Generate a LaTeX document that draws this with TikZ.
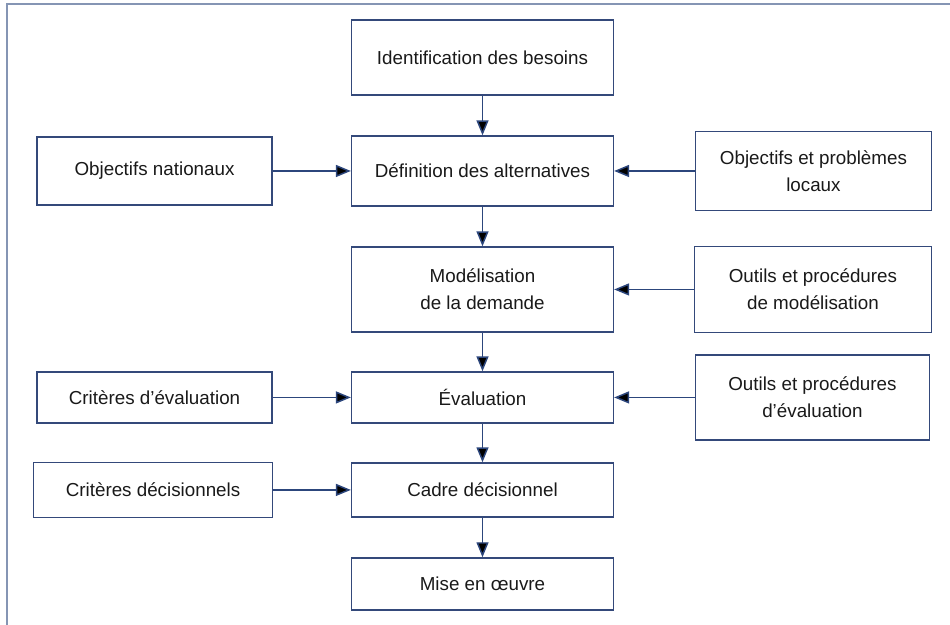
\documentclass[tikz,border=0pt]{standalone}
\usepackage{fontspec}
\setmainfont{Liberation Sans}
\usetikzlibrary{arrows.meta}
\definecolor{boxblue}{HTML}{34497A}
\definecolor{arrowblue}{HTML}{2C467C}
\definecolor{frameblue}{HTML}{8595B4}

\begin{document}
\begin{tikzpicture}[x=0.02cm,y=-0.02cm,->,>={Triangle[length=3mm,width=2.4mm]},
		main box/.style={rectangle,draw=boxblue,line width=0.75pt,minimum width=5.24cm,align=center,text=black!90,font=\fontsize{10.7}{15.3}\selectfont},
		side box/.style={main box,minimum width=4.7cm}]
		\useasboundingbox (0,0) rectangle (950,625);
		% cadre
		\draw[-,draw=frameblue,line width=0.9pt] (7,625) -- (7,4) -- (950,4);
		% chaine principale
		\node[main box, minimum height=1.5cm] (c1) at (482.5,57.5) {Identification des besoins};
		\node[main box, minimum height=1.4cm] (c2) [node distance=2.27cm, below of=c1] {Définition des alternatives};
		\node[main box, minimum height=1.7cm] (c3) [node distance=2.37cm, below of=c2] {Modélisation\\de la demande};
		\node[main box, minimum height=1.02cm] (c4) [node distance=2.16cm, below of=c3] {Évaluation};
		\node[main box, minimum height=1.08cm] (c5) [node distance=1.85cm, below of=c4] {Cadre décisionnel};
		\node[main box, minimum height=1.04cm] (c6) [node distance=1.88cm, below of=c5] {Mise en œuvre};
		
		% entrees gauche
		\node[side box, minimum height=1.36cm] (c7) [node distance=6.56cm, left of=c2] {Objectifs nationaux};
		\node[side box, minimum height=1.02cm] (c11) [node distance=6.56cm, left of=c4] {Critères d’évaluation};
		\node[side box, minimum width=4.78cm, minimum height=1.1cm] (c12) [node distance=6.59cm, left of=c5] {Critères décisionnels};
		
		% entrees droite
		\node[side box, minimum width=4.72cm, minimum height=1.58cm] (c8) [node distance=6.62cm, right of=c2] {Objectifs et problèmes\\locaux};
		\node[side box, minimum width=4.74cm, minimum height=1.72cm] (c9) [node distance=6.61cm, right of=c3] {Outils et procédures\\de modélisation};
		\node[side box, minimum width=4.68cm, minimum height=1.7cm] (c10) [node distance=6.6cm, right of=c4] {Outils et procédures\\d’évaluation};
		
		\path[->,draw=arrowblue,line width=0.85pt]
		(c1) edge (c2)
		(c2) edge (c3)
		(c3) edge (c4)
		(c4) edge (c5)
		(c5) edge (c6)
		(c7) edge (c2)
		(c8) edge (c2)
		(c9) edge (c3)
		(c10) edge (c4)
		(c11) edge (c4)
		(c12) edge (c5);
		
\end{tikzpicture}
\end{document}
